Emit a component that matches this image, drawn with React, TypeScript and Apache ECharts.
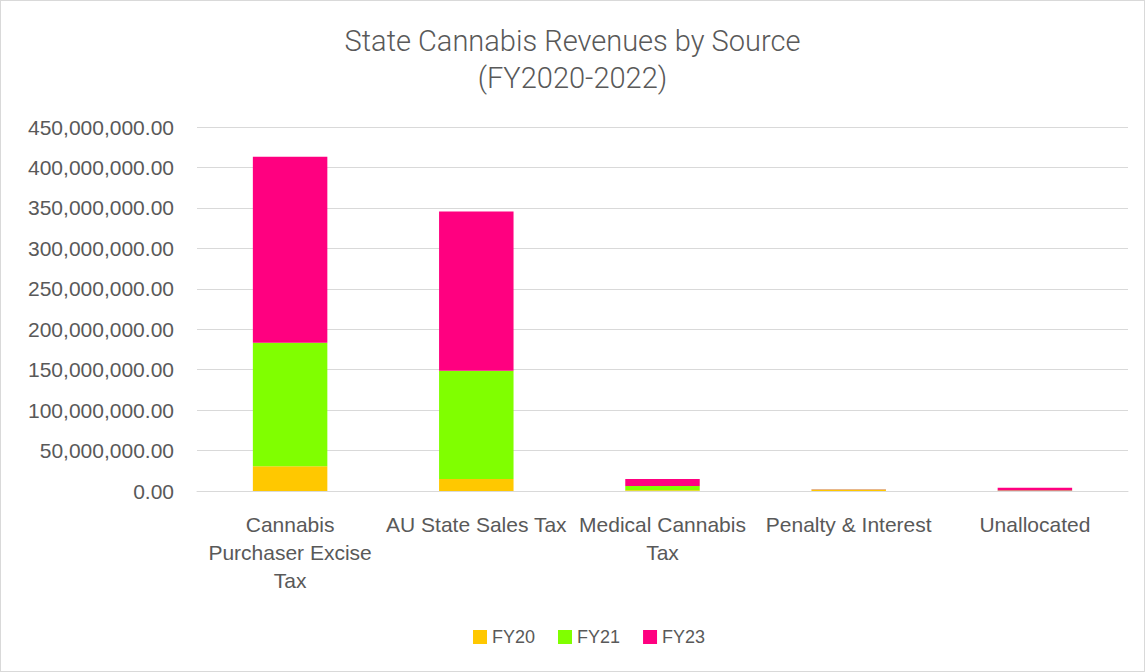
import React, { useEffect, useRef } from "react";
import * as echarts from "echarts";

const categories = [
  "Cannabis\nPurchaser Excise\nTax",
  "AU State Sales Tax",
  "Medical Cannabis\nTax",
  "Penalty & Interest",
  "Unallocated",
];
const fy20 = [30700000, 14800000, 800000, 1500000, 100000];
const fy21 = [152500000, 134000000, 5500000, 200000, 500000];
const fy23 = [229900000, 196700000, 8500000, 500000, 3500000];
const seriesNames = ["FY20", "FY21", "FY23"];
const colors = ["#FFC800", "#80FF00", "#FF0080"];

export default function App() {
  const ref = useRef<HTMLDivElement>(null);
  useEffect(() => {
    if (!ref.current) return;
    const chart = echarts.init(ref.current, null, { renderer: "svg" });
    const font = "'Liberation Sans', 'Open Sans', sans-serif";
    const data = [fy20, fy21, fy23];
    chart.setOption({
      animation: false,
      backgroundColor: "#ffffff",
      title: {
        text: "State Cannabis Revenues by Source\n(FY2020-2022)",
        left: "center",
        top: 16,
        textStyle: {
          fontFamily: "Roboto, sans-serif",
          fontWeight: 300,
          fontSize: 29,
          color: "#595959",
          lineHeight: 37,
        },
      },
      legend: {
        top: 622,
        left: 467,
        itemWidth: 14,
        itemHeight: 14,
        itemGap: 23,
        icon: "rect",
        textStyle: { fontFamily: font, fontSize: 18, color: "#595959" },
        data: seriesNames,
      },
      grid: { left: 196, right: 16, top: 126, bottom: 180 },
      xAxis: {
        type: "category",
        data: categories,
        axisLine: { lineStyle: { color: "#d9d9d9", width: 1 } },
        axisTick: { show: false },
        axisLabel: {
          fontFamily: font,
          fontSize: 21,
          color: "#595959",
          lineHeight: 28,
          margin: 19,
          interval: 0,
        },
      },
      yAxis: {
        type: "value",
        min: 0,
        max: 450000000,
        interval: 50000000,
        axisLine: { show: false },
        axisTick: { show: false },
        splitLine: { lineStyle: { color: "#d9d9d9", width: 1 } },
        axisLabel: {
          fontFamily: font,
          fontSize: 21,
          color: "#595959",
          margin: 23,
          formatter: (v: number) =>
            v.toLocaleString("en-US", { minimumFractionDigits: 2, maximumFractionDigits: 2 }),
        },
      },
      series: seriesNames.map((name, i) => ({
        name,
        type: "bar",
        stack: "total",
        barWidth: "40%",
        itemStyle: { color: colors[i] },
        data: data[i],
      })),
    });
    return () => chart.dispose();
  }, []);
  return (
    <div
      ref={ref}
      style={{
        position: "fixed",
        left: 0,
        top: 0,
        width: 1145,
        height: 672,
        boxSizing: "border-box",
        border: "1px solid #d9d9d9",
      }}
    />
  );
}
